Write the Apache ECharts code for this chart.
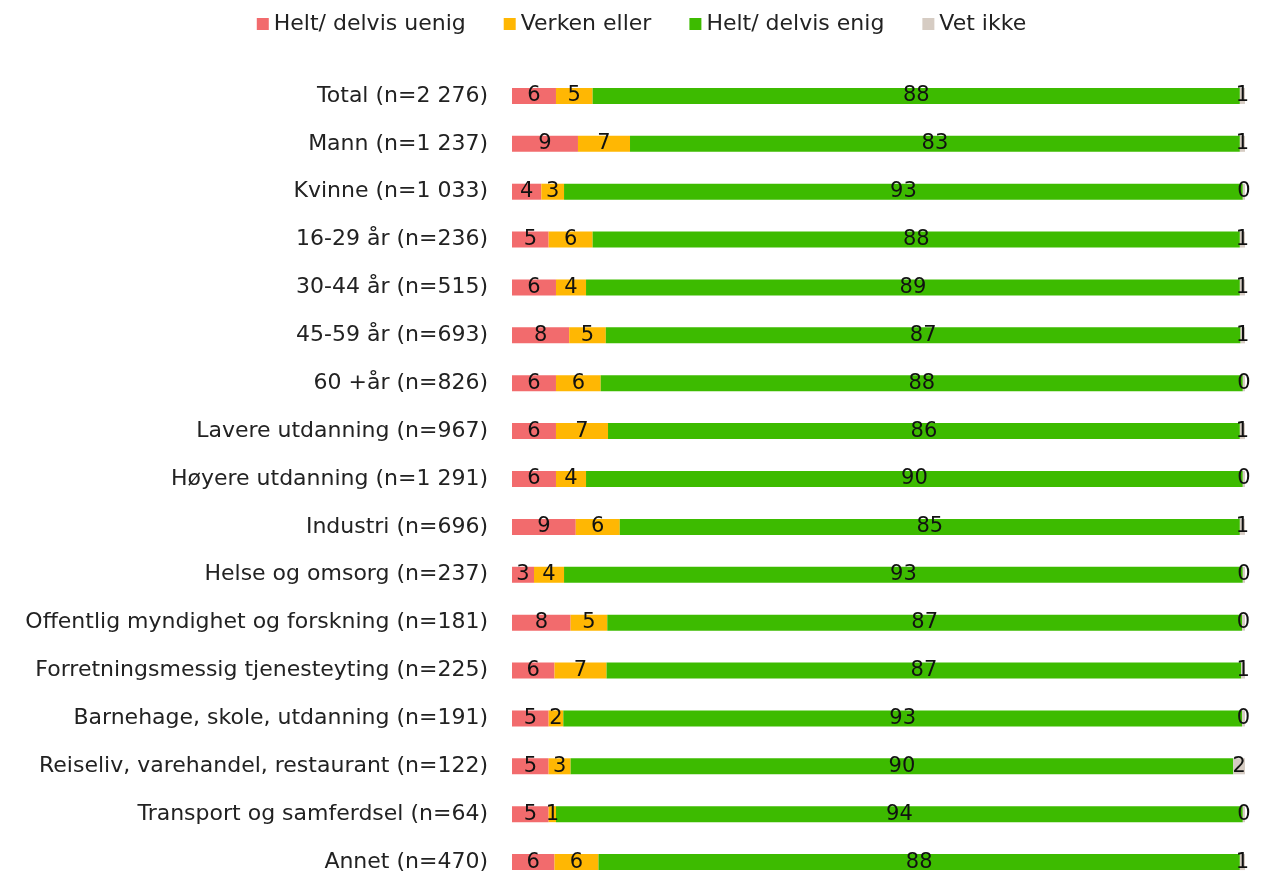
<!DOCTYPE html>
<html><head><meta charset="utf-8">
<script src="https://cdn.jsdelivr.net/npm/echarts@6/dist/echarts.min.js"></script>
<style>html,body{margin:0;padding:0;background:#fff;overflow:hidden}#c{width:1283px;height:886px}</style>
</head><body><div id="c"></div>
<script>
var categories = ["Total (n=2 276)","Mann (n=1 237)","Kvinne (n=1 033)","16-29 år (n=236)","30-44 år (n=515)","45-59 år (n=693)","60 +år (n=826)","Lavere utdanning (n=967)","Høyere utdanning (n=1 291)","Industri (n=696)","Helse og omsorg (n=237)","Offentlig myndighet og forskning (n=181)","Forretningsmessig tjenesteyting (n=225)","Barnehage, skole, utdanning (n=191)","Reiseliv, varehandel, restaurant (n=122)","Transport og samferdsel (n=64)","Annet (n=470)"];
var seriesNames = ["Helt/ delvis uenig","Verken eller","Helt/ delvis enig","Vet ikke"];
var uenig  = [6.0, 9.0, 4.0, 5.0, 6.0, 7.8, 6.0, 6.0, 6.0, 8.7, 3.0, 8.0, 5.8, 5.0, 5.0, 5.0, 5.8];
var verken = [5.0, 7.1, 3.1, 6.0, 4.1, 5.0, 6.1, 7.1, 4.1, 6.0, 4.1, 5.0, 7.1, 2.0, 3.0, 1.0, 6.0];
var enig   = [88.3, 83.2, 92.6, 88.3, 89.2, 86.6, 87.6, 86.2, 89.6, 84.6, 92.6, 86.6, 86.6, 92.6, 90.4, 93.7, 87.5];
var vetIkke= [0.7, 0.7, 0.3, 0.7, 0.7, 0.6, 0.3, 0.7, 0.3, 0.7, 0.3, 0.4, 0.5, 0.4, 1.6, 0.3, 0.7];
var colors = ["#F26B6D","#FFB703","#3DBB00","#D6CCC3"];
var FONT = "DejaVu Sans";
var chart = echarts.init(document.getElementById('c'));
var dataSets = [uenig, verken, enig, vetIkke];
var series = seriesNames.map(function(n,i){
  return {
    name:n, type:'bar', stack:'s', barWidth:16,
    itemStyle:{color:colors[i]},
    label:{show:true, position:'inside', color:'#111', fontFamily:FONT, fontSize:21,
      formatter:function(p){return Math.round(p.value);}},
    data:dataSets[i]
  };
});
chart.setOption({
  animation:false,
  textStyle:{fontFamily:FONT},
  legend:{top:8, left:'center', itemWidth:12, itemHeight:12, itemGap:38, icon:'rect',
    textStyle:{fontFamily:FONT, fontSize:22, color:'#222'}, data:seriesNames},
  grid:{left:512, right:38, top:72, bottom:0, containLabel:false},
  xAxis:{type:'value', min:0, max:100, show:false},
  yAxis:{type:'category', inverse:true, data:categories,
    axisLine:{show:false}, axisTick:{show:false},
    axisLabel:{fontFamily:FONT, fontSize:22, color:'#222', margin:24}},
  series:series
});
</script></body></html>
